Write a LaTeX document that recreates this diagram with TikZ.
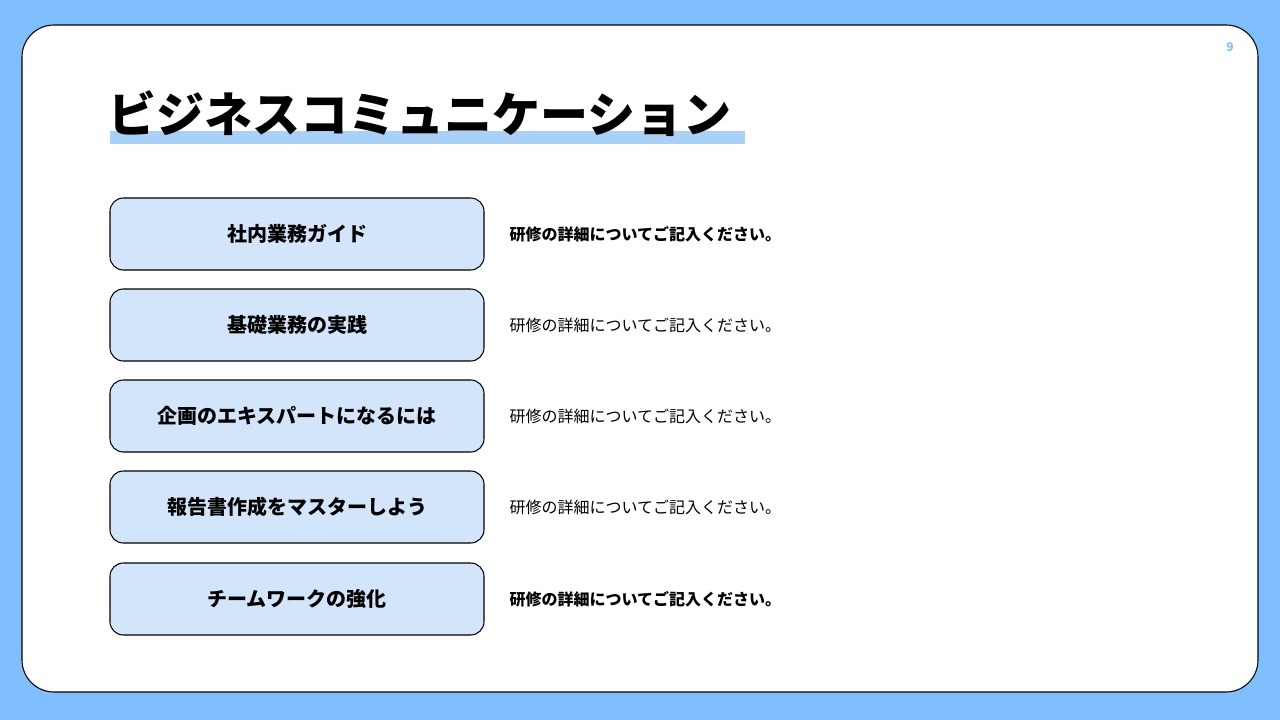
\documentclass[tikz,border=0pt]{standalone}
\usepackage{fontspec}
\setmainfont{Noto Sans CJK JP}
\definecolor{bgblue}{HTML}{80BFFF}
\definecolor{boxblue}{HTML}{D3E5FB}
\definecolor{barblue}{HTML}{A9D1F7}
\tikzset{
 itembox/.style={draw=black,fill=boxblue,rounded corners=10pt,line width=0.8pt,minimum width=280.5pt,minimum height=54pt,font=\fontsize{15}{18}\selectfont\bfseries},
 desc/.style={anchor=west,font=\fontsize{12}{14}\selectfont}
}
\begin{document}
\begin{tikzpicture}[x=0.75pt,y=-0.75pt]
\fill[bgblue] (0,0) rectangle (1280,720);
\useasboundingbox (0,0) rectangle (1280,720);
\draw[fill=white,line width=0.8pt,rounded corners=24pt] (22,25) rectangle (1258,692);
\node[text=bgblue,font=\fontsize{9}{10}\selectfont\bfseries] (pg) at (1230,47) {9};
\fill[barblue] (110,131) rectangle (745,144);
\node[anchor=west,font=\fontsize{36}{40}\selectfont\bfseries,inner sep=0pt] (title) at (108,114) {ビジネスコミュニケーション};
\foreach \y/\t/\w [count=\i] in {234/社内業務ガイド/\bfseries,325/基礎業務の実践/,416/企画のエキスパートになるには/,507/報告書作成をマスターしよう/,599/チームワークの強化/\bfseries}{
 \node[itembox] (b\i) at (297,\y) {\t};
 \node[desc] (d\i) at (505,\y) {\w 研修の詳細についてご記入ください。};
}
\end{tikzpicture}
\end{document}
